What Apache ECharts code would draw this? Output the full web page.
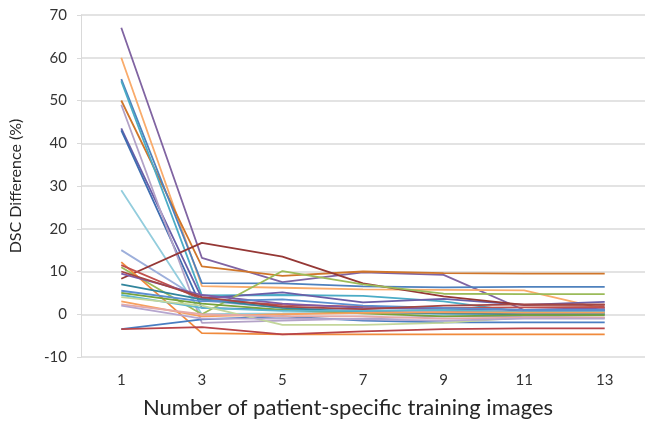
<!DOCTYPE html>
<html>
<head>
<meta charset="utf-8">
<script src="https://cdn.jsdelivr.net/npm/echarts@6/dist/echarts.min.js"></script>
<style>html,body{margin:0;padding:0;background:#fff}#c{width:645px;height:424px}</style>
</head>
<body>
<div id="c"></div>
<script>
const categories = ['1','3','5','7','9','11','13'];
const yTicks = [-10, 0, 10, 20, 30, 40, 50, 60, 70];
const xTitle = 'Number of patient-specific training images';
const yTitle = 'DSC Difference (%)';

const s01 = [67, 13.2, 7.5, 9.8, 9.2, 1.0, 1.5];
const s02 = [60, 6.6, 6.2, 5.8, 5.7, 5.6, 1.2];
const s03 = [50, 11.2, 9.0, 10.0, 9.6, 9.5, 9.5];
const s04 = [55, 7.3, 7.2, 6.5, 6.3, 6.4, 6.4];
const s05 = [54.5, 4.4, 4.5, 4.3, 3.0, 0.5, 0.3];
const s06 = [43.5, 3.7, 5.1, 2.8, 3.6, 2.2, 2.9];
const s07 = [43, 1.5, 1.0, 0.8, 0.8, 0.5, 0.8];
const s08 = [49, -2.0, -1.5, -1.0, -0.5, -0.5, -0.8];
const s09 = [29, 0.0, 0.2, 0.5, 0.0, 0.3, 0.3];
const s10 = [15, 3.2, 1.5, 1.0, 0.5, 0.3, 0.5];
const s11 = [8.3, 16.7, 13.5, 7.2, 4.2, 2.2, 2.2];
const s12 = [11, 0.0, 10.1, 7.0, 4.8, 4.7, 4.7];
const s13 = [12.2, -4.4, -4.7, -4.7, -4.7, -4.7, -4.7];
const s14 = [11.5, 3.5, 2.2, 1.8, 1.5, 1.6, 1.7];
const s15 = [-3.5, -1.2, -0.5, -1.5, -1.9, -1.9, -1.9];
const s16 = [-3.5, -3.0, -4.7, -4.0, -3.5, -3.3, -3.3];
const s17 = [9.5, 4.5, 2.5, 1.5, 1.2, 1.0, 1.2];
const s18 = [7, 3.5, 1.5, 0.5, 0.2, 0.0, 0.0];
const s19 = [5, 2.5, 1.0, 0.2, -0.5, -0.2, -0.2];
const s20 = [4.5, 1.5, 0.8, 0.8, 1.0, 0.5, 0.5];
const s21 = [4, 2.0, -2.5, -2.5, -2.0, -0.8, -0.8];
const s22 = [3, -0.5, 0.0, 0.3, 0.5, 0.4, 0.4];
const s23 = [2.3, 0.0, -0.5, -0.5, -1.0, -0.8, -0.8];
const s24 = [2, -1.0, -1.0, -1.2, -1.5, -1.0, -1.0];
const s25 = [5.5, 3.0, 3.5, 2.0, 1.5, 1.0, 1.0];
const s26 = [10, 4.0, 1.8, 1.2, 2.0, 2.3, 2.3];

const seriesData = [s01,s02,s03,s04,s05,s06,s07,s08,s09,s10,s11,s12,s13,s14,s15,s16,s17,s18,s19,s20,s21,s22,s23,s24,s25,s26];
const colors = ['#8064A2','#F9AB6B','#D0762A','#4F81BD','#4BACC6','#6A5EA8','#3F6DB0','#B3A2C7','#93CDDD','#9DAFDB',
  '#953735','#9BBB59','#F08A3C','#C0504D','#4A7EC2','#B8454A','#7E5BA6','#31859C','#77A33C','#5FB8CF',
  '#C3D69B','#F7A05E','#E6A9A8','#B6A6CF','#5B8ED0','#A64643'];

const chart = echarts.init(document.getElementById('c'));
chart.setOption({
  animation: false,
  grid: { left: 80, top: 15, bottom: 66, right: -2, containLabel: false },
  xAxis: {
    type: 'category', data: categories, boundaryGap: true,
    name: xTitle, nameLocation: 'middle', nameGap: 40,
    nameTextStyle: { fontFamily: 'Lato', fontSize: 22, color: '#262626', padding: [0, 30, 0, 0] },
    axisLine: { show: false }, axisTick: { show: false },
    axisLabel: { fontFamily: 'Lato', fontSize: 15, color: '#333', margin: 16 },
    splitLine: { show: false }
  },
  yAxis: {
    type: 'value', min: -10, max: 70, interval: 10,
    name: yTitle, nameLocation: 'middle', nameGap: 57,
    nameTextStyle: { fontFamily: 'Lato', fontSize: 16, color: '#262626' },
    axisLine: { show: true, lineStyle: { color: '#d9d9d9', width: 1 } },
    axisTick: { show: true, length: 4, inside: false, lineStyle: { color: '#d9d9d9' } },
    axisLabel: { fontFamily: 'Lato', fontSize: 15, color: '#333', margin: 14,
      formatter: v => yTicks.includes(v) ? String(v) : '' },
    splitLine: { show: true, lineStyle: { color: '#dadada', width: 1.5 } }
  },
  series: seriesData.map((d, i) => ({
    type: 'line', data: d, showSymbol: false, symbol: 'none',
    lineStyle: { width: 1.8, color: colors[i] }, itemStyle: { color: colors[i] }
  }))
});
</script>
</body>
</html>
